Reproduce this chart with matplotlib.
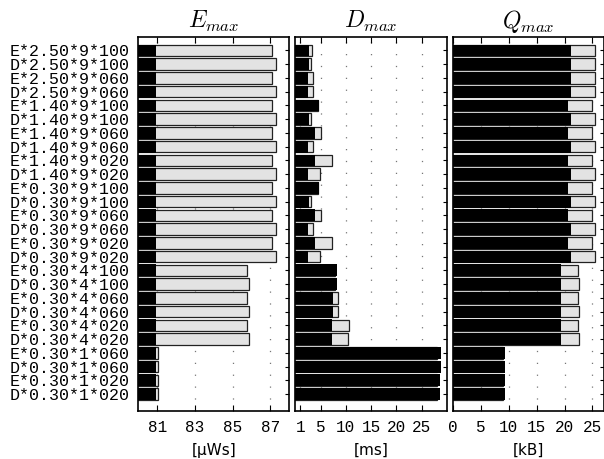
import numpy as np
import matplotlib
matplotlib.use("Agg")
import matplotlib.pyplot as plt

# ==============================
# DATA (top row first)
# ==============================
labels = [
    "E*2.50*9*100", "D*2.50*9*100", "E*2.50*9*060", "D*2.50*9*060",
    "E*1.40*9*100", "D*1.40*9*100", "E*1.40*9*060", "D*1.40*9*060",
    "E*1.40*9*020", "D*1.40*9*020", "E*0.30*9*100", "D*0.30*9*100",
    "E*0.30*9*060", "D*0.30*9*060", "E*0.30*9*020", "D*0.30*9*020",
    "E*0.30*4*100", "D*0.30*4*100", "E*0.30*4*060", "D*0.30*4*060",
    "E*0.30*4*020", "D*0.30*4*020", "E*0.30*1*060", "D*0.30*1*060",
    "E*0.30*1*020", "D*0.30*1*020",
]

e_black = [80.95] * 26
e_gray = [87.1, 87.3, 87.1, 87.3, 87.1, 87.3, 87.1, 87.3, 87.1, 87.3,
          87.1, 87.3, 87.1, 87.3, 87.1, 87.3,
          85.78, 85.87, 85.78, 85.87, 85.78, 85.87,
          81.02, 81.02, 81.02, 81.02]

d_black = [2.77, 2.77, 2.57, 2.57, 4.75, 2.77, 3.9, 2.57, 3.9, 2.57,
           4.68, 2.77, 3.9, 2.57, 3.9, 2.57,
           8.17, 8.17, 7.38, 7.38, 7.3, 7.3,
           28.85, 28.9, 28.6, 28.6]
d_gray = [3.2, 3.1, 3.56, 3.4, 4.5, 3.1, 5.0, 3.4, 7.25, 4.95,
          4.4, 3.1, 5.0, 3.4, 7.2, 4.8,
          7.9, 7.9, 8.5, 8.37, 10.67, 10.35,
          28.0, 28.0, 28.0, 28.0]

q_black = [21.1, 21.1, 21.1, 21.1, 20.7, 21.1, 20.7, 21.1, 20.7, 21.1,
           20.7, 21.1, 20.7, 21.1, 20.7, 21.1,
           19.35, 19.35, 19.35, 19.35, 19.35, 19.35,
           9.3, 9.3, 9.3, 9.3]
q_gray = [25.4, 25.4, 25.4, 25.4, 25.0, 25.4, 25.0, 25.4, 25.0, 25.4,
          25.0, 25.4, 25.0, 25.4, 25.0, 25.4,
          22.45, 22.55, 22.45, 22.55, 22.45, 22.55,
          9.0, 9.0, 9.0, 9.0]

titles = [r"$E_{max}$", r"$D_{max}$", r"$Q_{max}$"]
units = ["[\u00b5Ws]", "[ms]", "[kB]"]
xlims = [(80, 88), (0, 30), (0, 27)]
xticks = [[81, 83, 85, 87], [1, 5, 10, 15, 20, 25], [0, 5, 10, 15, 20, 25]]

plt.rcParams["mathtext.fontset"] = "cm"

fig = plt.figure(figsize=(6.04, 4.59), dpi=100)
lefts = [0.229, 0.489, 0.7505]
widths = [0.250, 0.2507, 0.2487]
bottom, height = 0.104, 0.816

y = np.arange(len(labels))
panels = [(e_black, e_gray), (d_black, d_gray), (q_black, q_gray)]

for i, (blk, gry) in enumerate(panels):
    ax = fig.add_axes([lefts[i], bottom, widths[i], height])
    ax.set_axisbelow(True)
    ax.grid(True, axis="x", linestyle=(0, (1, 8.5)), color="#777777",
            linewidth=0.9)
    ax.barh(y, gry, height=0.84, color="#e3e3e3", edgecolor="#222222",
            linewidth=0.9, zorder=2)
    ax.barh(y, blk, height=0.86, color="black", edgecolor="none", zorder=3)
    ax.set_xlim(*xlims[i])
    ax.set_ylim(26.25, -1.0)
    ax.set_xticks(xticks[i])
    ax.set_yticks(y)
    if i == 0:
        ax.set_yticklabels(labels, family="Liberation Mono", fontsize=12)
    else:
        ax.set_yticklabels([])
    for lab in ax.get_xticklabels():
        lab.set_family("Liberation Mono")
        lab.set_fontsize(11.5)
    ax.tick_params(axis="x", direction="in", top=True, length=4, pad=6)
    ax.tick_params(axis="y", direction="in", right=True, length=3, pad=6)
    for sp in ax.spines.values():
        sp.set_linewidth(1.2)
    ax.set_title(titles[i], fontsize=17, pad=6)
    ax.set_xlabel(units[i], fontsize=11, labelpad=6)

fig.savefig("out.png", dpi=100)
plt.close(fig)
